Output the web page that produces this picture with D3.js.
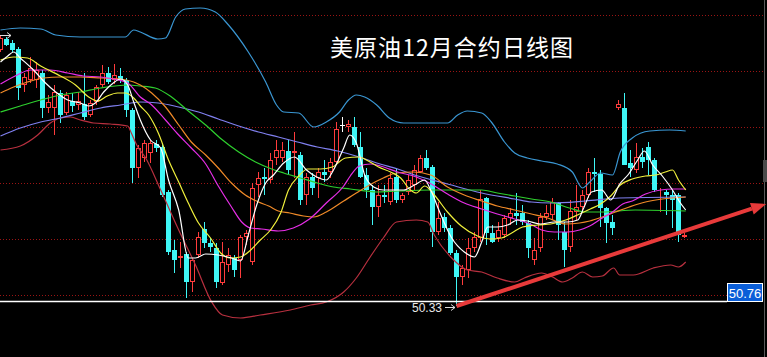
<!DOCTYPE html>
<html>
<head>
<meta charset="utf-8">
<script src="https://cdn.jsdelivr.net/npm/d3@7"></script>
<style>
  html, body { margin: 0; padding: 0; background: #000; }
  svg { display: block; }
</style>
</head>
<body>
<script>
const width = 767
const height = 357

// daily candles, Dec contract (index 0 = first visible day)
const opens = [75.93,77.03,76.63,76.03,72.43,72.93,72.93,73.63,70.13,70.13,
  71.63,69.63,70.83,70.43,70.53,69.43,70.73,72.43,73.63,72.93,
  73.33,72.93,69.93,64.13,65.13,65.63,66.53,66.23,61.73,55.93,
  55.13,55.53,52.73,55.43,58.03,56.63,56.13,52.63,54.43,55.13,
  54.93,57.23,54.73,62.43,63.23,62.93,65.13,65.13,65.83,65.63,
  65.43,61.43,63.23,63.13,63.73,63.73,64.73,68.43,68.23,68.23,
  66.23,63.43,61.93,60.23,61.43,60.73,63.23,60.93,61.73,62.43,
  63.73,65.13,64.23,57.73,59.23,58.13,55.63,53.23,53.93,56.13,
  57.13,61.13,57.63,57.13,57.43,59.13,59.63,59.63,58.63,54.93,
  56.13,59.23,59.43,60.63,57.73,56.23,59.73,60.23,61.43,63.73,
  63.53,60.13,58.73,70.13,70.13,64.63,63.93,65.23,66.23,64.93,
  61.63,61.73,61.43,61.43,57.23]
const highs = [77.43,77.23,76.93,76.23,73.63,75.23,74.73,73.93,71.43,72.43,
  71.93,71.73,71.63,71.73,73.63,70.93,72.43,74.43,74.23,74.53,
  74.13,73.13,70.13,66.43,66.93,66.93,66.93,66.63,61.93,56.93,
  56.73,55.73,55.13,57.73,58.73,57.13,56.63,56.73,56.13,55.43,
  57.43,57.93,62.63,63.73,64.13,65.63,66.93,66.73,66.93,67.73,
  65.73,63.63,63.63,64.13,64.93,65.13,68.73,69.23,68.93,69.23,
  67.73,64.13,62.43,62.43,62.43,63.63,64.13,61.63,63.43,64.43,
  65.43,65.93,64.43,60.73,59.63,58.43,55.93,54.43,57.13,57.73,
  61.93,61.23,58.43,58.73,59.43,60.13,61.63,60.43,58.93,57.13,
  59.63,60.43,61.13,60.73,58.73,60.93,62.43,61.93,64.13,65.13,
  63.93,60.23,59.43,70.93,71.63,65.93,66.63,66.13,66.73,65.13,
  62.13,61.93,61.93,61.63,57.63]
const lows = [75.73,76.33,75.73,70.93,71.73,72.63,72.13,69.13,69.63,67.43,
  68.63,69.43,69.73,69.93,68.93,69.23,70.43,72.13,72.53,72.53,
  72.63,69.23,62.63,63.13,64.73,64.63,65.73,61.23,55.43,53.63,
  54.13,51.13,51.73,55.13,56.13,55.73,52.13,52.43,53.73,53.23,
  53.13,56.43,54.43,61.23,61.43,62.63,64.43,64.73,63.43,63.13,
  60.43,60.43,61.43,61.13,62.73,63.13,64.63,67.73,67.73,66.23,
  63.13,61.13,58.43,59.23,60.63,60.43,60.63,60.63,61.43,61.93,
  63.63,63.93,56.23,57.43,57.73,55.43,50.33,52.43,53.13,55.73,
  56.73,56.43,56.63,56.73,57.13,58.43,58.43,58.43,55.13,54.43,
  55.73,58.93,58.93,56.93,54.23,55.73,58.93,59.73,61.13,61.73,
  58.23,56.63,57.43,69.93,64.43,63.23,63.63,64.13,63.43,61.73,
  59.73,59.43,58.13,56.73,57.13]
const closes = [77.13,76.43,75.93,72.13,73.23,74.13,73.93,70.13,70.73,71.73,
  69.43,71.43,70.33,70.83,69.23,70.63,72.23,73.63,72.73,73.43,
  72.93,69.93,64.13,66.13,66.63,66.63,66.13,61.43,55.73,54.93,
  55.33,52.73,54.93,57.23,56.63,56.23,52.73,54.73,55.43,53.93,
  57.23,57.63,62.13,63.13,63.03,64.93,65.93,65.93,63.93,65.83,
  60.93,63.23,62.13,63.73,63.43,64.73,68.03,68.43,68.53,66.43,
  63.23,61.93,60.23,61.43,61.23,63.13,60.93,61.43,62.93,63.93,
  65.13,64.13,57.73,59.13,58.13,55.63,53.23,54.13,56.13,57.23,
  61.03,57.63,56.73,57.93,59.13,59.63,59.33,58.73,56.13,55.93,
  59.23,59.63,60.73,58.43,55.93,59.83,60.23,61.43,63.73,63.53,
  60.13,58.63,58.13,70.53,64.43,64.13,65.23,64.73,64.93,61.93,
  61.73,61.43,60.93,57.43,57.43]

// indicator lines, as [day index, price]
const bollUpper = [[0,77.93],[3.3,78.13],[6.7,78.03],[9.2,77.43],[13.3,77.23],[20.8,77.23],
  [22.2,77.93],[23.3,77.73],[26.2,77.03],[27.5,77.13],[29.2,79.23],[30.8,80.03],[33.3,80.13],
  [35.8,79.73],[38,78.43],[41.3,75.73],[44.2,72.73],[46,70.43],[47.2,69.73],[49.7,69.63],
  [52.2,68.23],[54.3,68.73],[56.5,69.73],[58,70.93],[59.3,71.43],[60.7,71.23],[62.7,70.43],
  [64.8,69.13],[67.2,68.63],[74.5,68.63],[76.2,69.43],[77.8,69.83],[80.2,69.63],[81.8,68.73],
  [84,66.73],[85.7,65.63],[87.8,65.13],[90.2,64.83],[92.8,64.53],[95.3,63.73],[97,62.13],
  [98.2,62.73],[100,63.63],[102,63.43],[103.3,65.73],[105.3,67.13],[108.2,67.83],[111.5,67.93],
  [114.2,67.83]]
const bollLower = [[0,65.93],[3.3,66.33],[6.2,67.43],[8.3,68.63],[10,69.13],[11.7,69.23],
  [13.3,68.93],[15.5,68.63],[18.3,68.53],[21.2,68.33],[21.8,67.63],[22.7,66.43],[24.2,65.13],
  [26.7,61.93],[29.7,57.93],[32.5,54.43],[35.2,50.73],[37,49.43],[40,49.13],[43.3,49.43],
  [48.3,49.93],[51.7,50.43],[54.3,50.73],[57.2,51.73],[59.3,53.13],[61.5,55.13],[63.8,57.13],
  [66,58.73],[69.3,58.93],[71.2,58.73],[72.3,57.43],[75.2,55.13],[77.8,53.93],[80.2,53.73],
  [82.8,53.13],[85.7,52.73],[87.3,53.13],[90.2,53.63],[92,53.23],[93.7,52.73],[95.3,53.13],
  [97,53.73],[98.7,53.23],[100.3,53.33],[102.2,54.13],[103.2,53.43],[105.5,53.43],[108.8,54.13],
  [111.7,54.43],[113,54.23],[114.2,54.73]]
const ma5 = [[0,74.73],[1.2,75.33],[2.2,75.73],[3.3,75.13],[5.5,73.93],[7.5,72.63],[9.2,71.73],
  [11.2,70.93],[13.3,70.63],[14.7,70.33],[15.8,70.63],[17.2,71.73],[18.8,72.63],[20,73.03],
  [21.2,72.43],[22.2,70.73],[23.3,68.93],[25,66.93],[26.7,66.13],[28,62.93],[29.7,59.93],
  [31.3,55.13],[32.5,55.13],[34.2,55.53],[36.3,55.43],[38.5,55.13],[40,54.83],[41.3,57.43],
  [42.7,60.43],[44.2,62.63],[45.5,63.43],[47.2,64.63],[49,65.23],[51,63.93],[52.7,63.23],
  [54.3,62.93],[55.5,63.93],[57.2,66.13],[58.2,67.43],[59.3,66.63],[60.7,63.43],[62.2,62.23],
  [63.8,61.93],[65.5,61.93],[67.2,61.93],[69,62.43],[70.7,62.93],[71.7,61.93],[73.2,59.73],
  [75.2,57.13],[77.3,55.73],[79,55.23],[80.2,56.73],[81.2,58.23],[82.8,58.23],[84.5,58.43],
  [86.2,58.93],[87.8,58.83],[90,58.53],[92.3,58.73],[94.5,58.73],[96.2,58.93],[97.2,60.13],
  [98.5,61.73],[100.2,61.93],[101.7,60.93],[103.2,62.53],[104.7,63.53],[106.2,64.93],
  [107.3,65.83],[108.7,64.43],[110.3,63.33],[112,61.93],[113.2,60.73],[114.2,59.93]]
const ma10 = [[0,74.93],[2.2,75.23],[4.5,75.13],[6.7,74.33],[10,73.33],[12.5,72.43],[14.7,71.23],
  [16.2,70.83],[17.8,71.33],[19.5,71.63],[20.8,71.63],[22.2,71.13],[23.3,70.33],[24.7,69.43],
  [26.3,67.63],[28,64.93],[29.7,62.73],[31.3,60.63],[33,58.63],[35,57.13],[36.7,55.63],
  [38.3,55.13],[40,55.23],[41.7,55.93],[43.3,56.93],[45,57.93],[46.7,59.63],[48,61.93],
  [49.7,63.33],[51.2,64.03],[53.3,64.03],[55.3,64.23],[57.5,65.13],[59.7,65.23],[61.3,64.83],
  [63,64.23],[65,63.73],[66.7,63.13],[68.3,61.93],[69.3,61.63],[70.7,62.33],[72.3,61.43],
  [74.5,59.73],[76.8,58.33],[79.5,57.33],[81.7,57.03],[83.5,57.13],[85.2,57.63],[87,58.23],
  [89.5,58.43],[91.7,58.53],[94.2,58.93],[96.5,59.53],[98.3,60.03],[100,60.53],[101.7,61.33],
  [103.3,62.43],[105.3,63.03],[107.5,63.33],[109.2,63.43],[110.8,63.73],[112,63.93],[113,62.93],
  [114.2,61.93]]
const ma20 = [[0,72.53],[2.8,73.43],[5,73.93],[8.3,73.93],[11.2,73.63],[13.8,73.33],[16.7,73.23],
  [18.8,73.03],[21.2,72.63],[23.3,71.23],[25.2,70.43],[27.5,68.93],[29.7,67.43],[31.8,66.13],
  [34.2,64.53],[36.3,62.33],[38.5,60.23],[40.2,58.73],[41.7,58.13],[43.5,58.03],[46.3,57.83],
  [48.8,58.13],[51.5,59.03],[54.3,60.63],[57.2,62.33],[58.3,63.33],[59.8,64.33],[61.7,64.53],
  [63.3,64.33],[66.2,63.73],[69.3,63.23],[71.8,62.53],[74.5,61.53],[77.3,60.63],[80.2,60.03],
  [82.8,59.53],[85.7,59.03],[88.3,58.53],[90.2,57.93],[92.3,57.73],[94.5,57.73],[96.5,57.93],
  [98.2,58.33],[100.3,59.13],[102,59.73],[103.7,60.53],[105.3,60.83],[107.5,61.53],[110,61.93],
  [112.2,62.03],[114.2,62.03]]
const ma30 = [[0,71.63],[2.2,72.23],[4.5,72.73],[7.2,73.13],[10,73.23],[13.3,73.23],[16.7,73.13],
  [20,73.03],[22.2,72.73],[23.3,72.43],[25.2,71.63],[27.5,70.23],[29.7,68.43],[31.8,66.73],
  [34.2,65.43],[36.3,64.13],[38.5,62.63],[40.8,61.43],[43,60.73],[44.7,60.33],[46.3,59.83],
  [48.2,59.63],[50.5,59.33],[52.2,59.23],[54.3,59.73],[57.2,60.83],[59.3,61.63],[61.5,62.43],
  [63.8,63.13],[66,63.63],[68.8,63.73],[71.7,63.43],[74.5,62.23],[77.3,61.43],[80.2,60.83],
  [82.8,60.33],[85.7,59.93],[88.5,59.53],[91.2,59.13],[94.2,58.53],[96.5,58.63],[98.2,58.83],
  [100.3,59.23],[102.5,59.73],[104.8,60.23],[107.5,60.73],[110.3,61.03],[114.2,61.23]]
const ma60 = [[0,69.73],[3.3,70.33],[6.7,70.93],[10,71.43],[13.3,71.73],[16.7,72.13],[21.2,72.43],
  [23.3,72.33],[25.8,72.13],[28.5,71.23],[31.3,69.83],[34.2,68.43],[36.8,67.03],[39.7,65.73],
  [42.5,64.73],[45.2,64.03],[47.2,63.63],[50,63.13],[52.8,62.63],[55.5,62.23],[58.3,62.03],
  [62.7,61.73],[66.2,61.83],[71.7,61.93],[77.3,61.93],[80.2,61.93],[82.8,61.63],[85.7,61.33],
  [88.5,61.03],[91.7,60.73],[94.8,60.13],[97.5,59.73],[100.3,59.73],[105.8,59.93],[114.2,59.83]]
const ma120 = [[0,67.33],[3.3,68.13],[6.7,68.73],[10,69.13],[13.3,69.63],[16.7,70.13],[20,70.43],
  [23.3,70.73],[26.3,70.63],[29.7,70.23],[33,69.73],[36.3,69.03],[39.7,68.33],[43,67.73],
  [46.3,67.23],[49.5,66.73],[52.8,66.23],[56.2,65.83],[59.8,65.23],[62.7,64.63],[66.2,64.03],
  [69,63.43],[74.5,62.53],[80.2,61.63],[85.7,61.03],[88.5,60.73],[91.7,60.63],[97.5,60.83],
  [103.2,61.13],[114.2,61.23]]

const gridPrices = [79.43, 73.83, 68.23, 62.63, 57.03, 51.43]
const lastPrice = 50.76
const lowIndex = 76
const lowPrice = 50.33
const trendTarget = [127.6, 60.53]
const title = '美原油12月合约日线图'

const svg = d3.select('body').append('svg')
  .attr('width', width)
  .attr('height', height)

svg.append('rect').attr('width', width).attr('height', height).attr('fill', '#000')

const x = d3.scaleLinear().domain([0, 114]).range([0.5, 684.5])
const y = d3.scaleLinear().domain([50.33, 80.93]).range([306, 0])

// dotted grid
svg.append('g').selectAll('line')
  .data(gridPrices)
  .enter().append('line')
  .attr('x1', 0).attr('x2', 764)
  .attr('y1', d => Math.round(y(d)) + 0.5)
  .attr('y2', d => Math.round(y(d)) + 0.5)
  .attr('stroke', '#9a1414')
  .attr('stroke-dasharray', '1,2')

// right border strip + scroll thumb
svg.append('line')
  .attr('x1', 764.5).attr('x2', 764.5).attr('y1', 0).attr('y2', height)
  .attr('stroke', '#5a5a5a')
svg.append('rect')
  .attr('x', 763).attr('y', 160).attr('width', 4).attr('height', 22)
  .attr('fill', '#4a4a4a')

// candles
const candles = d3.range(opens.length).map(i => ({
  i, o: opens[i], h: highs[i], l: lows[i], c: closes[i]
}))
function candleColor(d) {
  if (d.c > d.o) return '#ff3c3c'
  if (d.c < d.o) return '#3ff6f6'
  return '#ffffff'
}

const candle = svg.append('g').attr('shape-rendering', 'crispEdges')
  .selectAll('g')
  .data(candles)
  .enter().append('g')

candle.append('line')
  .attr('x1', d => Math.floor(x(d.i)) + 0.5)
  .attr('x2', d => Math.floor(x(d.i)) + 0.5)
  .attr('y1', d => Math.round(y(d.h)))
  .attr('y2', d => Math.round(y(d.l)))
  .attr('stroke', candleColor)

candle.append('rect')
  .each(function(d) {
    const px = Math.floor(x(d.i))
    const top = Math.round(y(Math.max(d.o, d.c)))
    const bot = Math.round(y(Math.min(d.o, d.c)))
    const el = d3.select(this)
    if (d.c > d.o) {
      el.attr('x', px - 1.5).attr('width', 4)
        .attr('y', top + 0.5).attr('height', Math.max(0, bot - top - 1))
        .attr('fill', '#000').attr('stroke', candleColor(d))
    } else {
      el.attr('x', px - 2).attr('width', 5)
        .attr('y', top).attr('height', Math.max(1, bot - top))
        .attr('fill', candleColor(d))
    }
  })

// bollinger bands + moving averages
const line = d3.line()
  .x(d => x(d[0]))
  .y(d => y(d[1]))
  .curve(d3.curveMonotoneX)

const series = [
  { data: bollUpper, color: '#3a96d2' },
  { data: bollLower, color: '#b8303f' },
  { data: ma120, color: '#8080f0' },
  { data: ma60, color: '#2ed02e' },
  { data: ma30, color: '#f08a28' },
  { data: ma20, color: '#e62ee6' },
  { data: ma10, color: '#f0f03c' },
  { data: ma5, color: '#ffffff' }
]
svg.append('g').selectAll('path')
  .data(series)
  .enter().append('path')
  .attr('d', d => line(d.data))
  .attr('fill', 'none')
  .attr('stroke', d => d.color)
  .attr('stroke-width', 1.2)

// last price line and tag
const lastY = Math.round(y(lastPrice)) - 0.5
svg.append('line')
  .attr('x1', 0).attr('x2', 727).attr('y1', lastY).attr('y2', lastY)
  .attr('stroke', '#fff').attr('stroke-width', 1.5)
svg.append('rect')
  .attr('x', 727.5).attr('y', lastY - 18).attr('width', 35).attr('height', 18)
  .attr('fill', '#0a5ed8').attr('stroke', '#fff')
svg.append('text')
  .attr('x', 745).attr('y', lastY - 4)
  .attr('text-anchor', 'middle')
  .attr('font-family', 'Liberation Sans, Arial, sans-serif')
  .attr('font-size', 13)
  .attr('fill', '#fff')
  .text(lastPrice.toFixed(2))

// low marker
const lowX = Math.floor(x(lowIndex))
const lowY = Math.round(y(lowPrice)) + 1.5
svg.append('text')
  .attr('x', 442).attr('y', lowY + 4)
  .attr('text-anchor', 'end')
  .attr('font-family', 'Liberation Sans, Arial, sans-serif')
  .attr('font-size', 12)
  .attr('fill', '#e8e8e8')
  .text(lowPrice.toFixed(2))
svg.append('line')
  .attr('x1', 445).attr('x2', lowX - 1).attr('y1', lowY).attr('y2', lowY)
  .attr('stroke', '#ddd')
svg.append('path')
  .attr('d', `M${lowX - 5},${lowY - 3} L${lowX - 1},${lowY} L${lowX - 5},${lowY + 3}`)
  .attr('fill', 'none').attr('stroke', '#ddd')

// high marker arrow at the left edge (label is off screen)
const highY = Math.round(y(d3.max(highs))) + 0.5
svg.append('line')
  .attr('x1', 0).attr('x2', 11).attr('y1', highY).attr('y2', highY)
  .attr('stroke', '#ddd')
svg.append('path')
  .attr('d', `M7,${highY - 3} L11,${highY} L7,${highY + 3}`)
  .attr('fill', 'none').attr('stroke', '#ddd')

// red trend arrow from the low
const ax0 = x(lowIndex), ay0 = y(lowPrice)
const ax1 = x(trendTarget[0]), ay1 = y(trendTarget[1])
const len = Math.hypot(ax1 - ax0, ay1 - ay0)
const ux = (ax1 - ax0) / len, uy = (ay1 - ay0) / len
const headLen = 15, headW = 6
const bx = ax1 - ux * headLen, by = ay1 - uy * headLen
svg.append('line')
  .attr('x1', ax0).attr('y1', ay0).attr('x2', bx).attr('y2', by)
  .attr('stroke', '#e83a3a').attr('stroke-width', 4)
svg.append('path')
  .attr('d', `M${ax1},${ay1} L${bx - uy * headW},${by + ux * headW} L${bx + uy * headW},${by - ux * headW} Z`)
  .attr('fill', '#e83a3a')

// title
svg.append('text')
  .attr('x', 330).attr('y', 56)
  .attr('font-family', 'Noto Sans CJK SC, sans-serif')
  .attr('font-size', 23)
  .attr('fill', '#fff')
  .attr('textLength', 243)
  .attr('lengthAdjust', 'spacing')
  .text(title)
</script>
</body>
</html>
